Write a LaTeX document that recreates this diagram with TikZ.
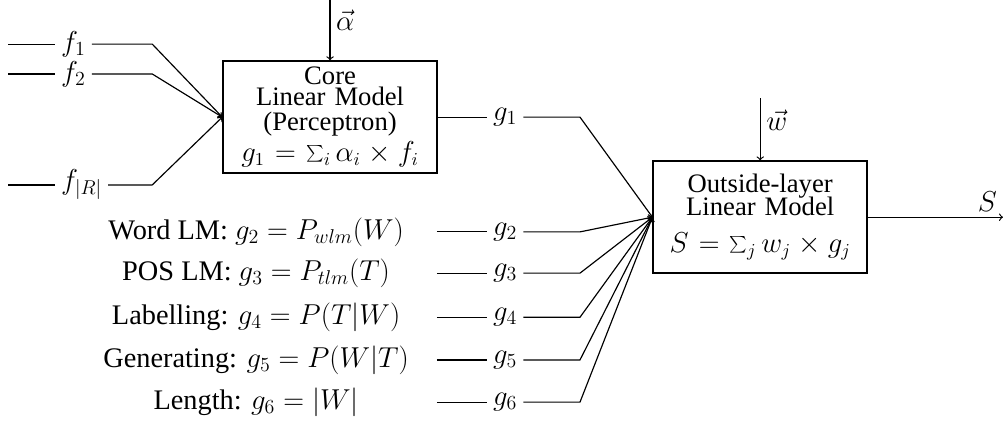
\documentclass[tikz,border=0pt]{standalone}
\usepackage[no-math]{fontspec}
\setmainfont{Liberation Serif}
\begin{document}
\begin{tikzpicture}[font=\fontsize{17}{20}\selectfont,line width=0.7pt,
   model/.style={draw,line width=1pt,align=center,text width=4.4cm,minimum width=4.51cm,
     minimum height=2.36cm,inner sep=1pt,font=\fontsize{16}{11}\selectfont}]
   \useasboundingbox (0,0) rectangle (21.15,8.90);
   % the two linear models
   \node[model] (core) at (6.96,6.43)
     {Core\\Linear Model\\[3pt](Perceptron)\\[2pt]$g_1=\sum_i\alpha_i\times f_i$};
   \node[model] (outer) at (16.03,4.32)
     {Outside-layer\\[-2pt]Linear Model\\[9pt]$S=\sum_j w_j\times g_j$};
   \coordinate (atop) at (6.96,8.90);
   \coordinate (wtop) at (16.03,6.83);
   \coordinate (out) at (21.15,4.32);
   \draw[->] (atop) -- node[right,pos=0.33] {$\vec{\alpha}$} (core);
   \draw[->] (wtop) -- node[right,pos=0.35] {$\vec{w}$} (outer);
   \draw[->] (outer) -- (out) node[above left] {$S$};
   % features into the core model
   \foreach \n/\l/\y in {1/{1}/7.97, 2/{2}/7.34, R/{|R|}/5.00} {
     \coordinate (fs\n) at (0.17,\y);
     \coordinate (fk\n) at (3.21,\y);
     \node[anchor=west] (f\n) at (1.16,\y) {$f_{\l}$};
     \draw (fs\n) -- (f\n.west);
     \draw[->] (f\n.east) -- (fk\n) -- (core.west);
   }
   % g_1 from the core model
   \node[anchor=west] (g1) at (10.27,6.43) {$g_1$};
   \coordinate (gk1) at (12.23,6.43);
   \draw (core.east) -- (g1.west);
   \draw[->] (g1.east) -- (gk1) -- (outer.west);
   % the other scores
   \foreach \n/\d/\y in
     {2/{Word LM: $g_2=P_{wlm}(W)$}/4.01,
      3/{POS LM: $g_3=P_{tlm}(T)$}/3.14,
      4/{Labelling: $g_4=P(T|W)$}/2.21,
      5/{Generating: $g_5=P(W|T)$}/1.31,
      6/{Length: $g_6=|W|$}/0.42
     } {
     \node (d\n) at (5.40,\y) {\d};
     \coordinate (gs\n) at (9.21,\y);
     \coordinate (gk\n) at (12.23,\y);
     \node[anchor=west] (g\n) at (10.27,\y) {$g_\n$};
     \draw (gs\n) -- (g\n.west);
     \draw[->] (g\n.east) -- (gk\n) -- (outer.west);
   }
\end{tikzpicture}
\end{document}
